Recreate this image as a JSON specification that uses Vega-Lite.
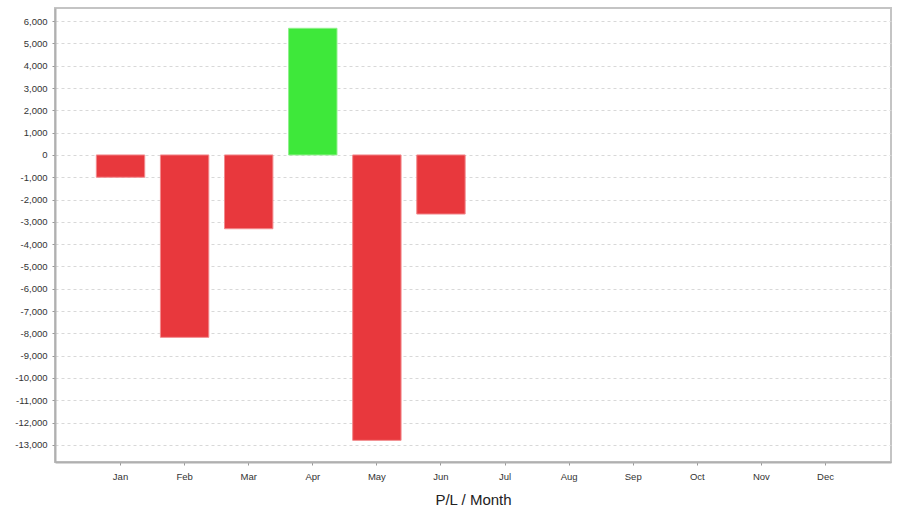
{
  "$schema": "https://vega.github.io/schema/vega-lite/v6.json",
  "width": 836,
  "height": 454,
  "autosize": {"type": "none"},
  "padding": {"left": 55, "top": 8, "right": 9, "bottom": 57},
  "background": "white",
  "config": {
    "font": "Liberation Sans",
    "view": {"stroke": "#c4c4c4", "strokeWidth": 2},
    "axis": {"labelFont": "Liberation Sans", "titleFont": "Liberation Sans"}
  },
  "data": {
    "values": [
      {"month": "Jan", "value": -1000},
      {"month": "Feb", "value": -8180},
      {"month": "Mar", "value": -3310},
      {"month": "Apr", "value": 5680},
      {"month": "May", "value": -12800},
      {"month": "Jun", "value": -2650}
    ]
  },
  "mark": {"type": "bar", "strokeWidth": 1},
  "encoding": {
    "x": {
      "field": "month",
      "type": "nominal",
      "sort": null,
      "scale": {
        "domain": ["Jan", "Feb", "Mar", "Apr", "May", "Jun", "Jul", "Aug", "Sep", "Oct", "Nov", "Dec"],
        "paddingInner": 0.245,
        "paddingOuter": 0.645
      },
      "axis": {
        "title": "P/L / Month",
        "titleFontSize": 15,
        "titleFontWeight": "normal",
        "titleColor": "#222",
        "titlePadding": 12,
        "labelAngle": 0,
        "labelFontSize": 9.5,
        "labelColor": "#333",
        "labelPadding": 6,
        "tickSize": 3,
        "tickColor": "#999",
        "domainColor": "#b0b0b0",
        "domainWidth": 2,
        "grid": false
      }
    },
    "y": {
      "field": "value",
      "type": "quantitative",
      "scale": {"domain": [-13770, 6590], "nice": false, "zero": false},
      "axis": {
        "title": null,
        "values": [-13000, -12000, -11000, -10000, -9000, -8000, -7000, -6000, -5000, -4000, -3000, -2000, -1000, 0, 1000, 2000, 3000, 4000, 5000, 6000],
        "format": ",d",
        "labelExpr": "replace(datum.label, '\u2212', '-')",
        "labelFontSize": 9.5,
        "labelColor": "#333",
        "labelPadding": 5,
        "tickSize": 3,
        "tickColor": "#999",
        "domainColor": "#b0b0b0",
        "domainWidth": 2,
        "grid": true,
        "gridColor": "#d8d8d8",
        "gridDash": [3, 3],
        "gridWidth": 1
      }
    },
    "color": {
      "condition": {"test": "datum.value > 0", "value": "#3ee83a"},
      "value": "#e8383d"
    },
    "stroke": {
      "condition": {"test": "datum.value > 0", "value": "#8ef08a"},
      "value": "#f28a8d"
    }
  }
}
